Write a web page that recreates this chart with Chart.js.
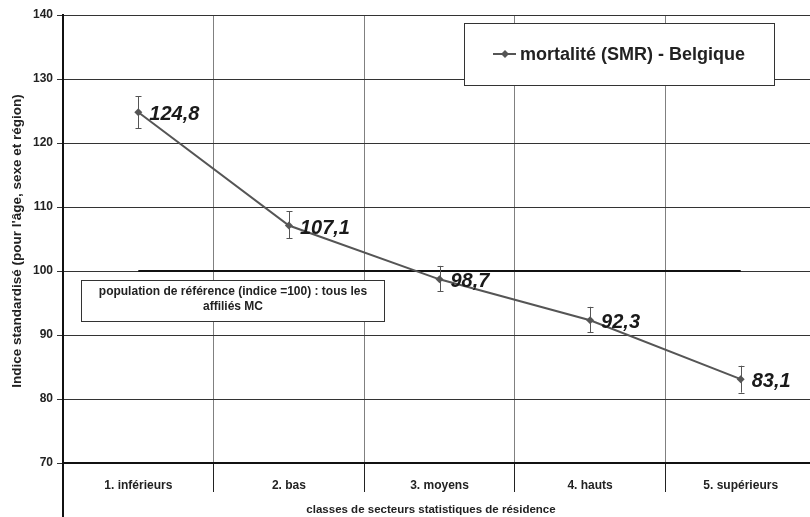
<!DOCTYPE html>
<html lang="fr">
<head>
<meta charset="utf-8">
<title>Mortalité (SMR) - Belgique</title>
<script src="https://cdn.jsdelivr.net/npm/chart.js@4/dist/chart.umd.min.js"></script>
<style>
  html, body { margin: 0; padding: 0; background: #fff; }
  #wrap { width: 810px; height: 517px; overflow: hidden; position: relative; }
  canvas { display: block; }
</style>
</head>
<body>
<div id="wrap"><canvas id="c" width="830" height="517"></canvas></div>
<script>
// Classes de secteurs statistiques
const categories = ['1. inférieurs', '2. bas', '3. moyens', '4. hauts', '5. supérieurs'];
// Indice standardisé (SMR) et intervalle de confiance
const smr     = [124.8, 107.1, 98.7, 92.3, 83.1];
const ciLow   = [122.3, 105.1, 96.8, 90.4, 81.0];
const ciHigh  = [127.3, 109.3, 100.8, 94.4, 85.2];
// Population de référence
const reference = [100, 100, 100, 100, 100];
// Axe vertical
const yTicks = [70, 80, 90, 100, 110, 120, 130, 140];

const seriesLabel = 'mortalité (SMR) - Belgique';
const refNote = ['population de référence (indice =100) : tous les', 'affiliés MC'];
const xTitle = 'classes de secteurs statistiques de résidence';
const yTitle = "Indice standardisé (pour l'âge, sexe et région)";

const FONT = '"Liberation Sans", Arial, sans-serif';
const LINE = '#555555';

function fmt(v) { return v.toFixed(1).replace('.', ','); }

function diamond(ctx, x, y, r) {
  ctx.beginPath();
  ctx.moveTo(x, y - r);
  ctx.lineTo(x + r, y);
  ctx.lineTo(x, y + r);
  ctx.lineTo(x - r, y);
  ctx.closePath();
  ctx.fill();
}

const decorations = {
  id: 'decorations',
  beforeDatasetsDraw(chart) {
    const ctx = chart.ctx;
    ctx.save();
    // note box on the reference level
    ctx.fillStyle = '#fff';
    ctx.fillRect(81, 280, 304, 41);
    ctx.strokeStyle = '#333';
    ctx.lineWidth = 1;
    ctx.strokeRect(81.5, 280.5, 303, 41);
    ctx.fillStyle = '#222';
    ctx.font = 'bold 12px ' + FONT;
    ctx.textAlign = 'center';
    ctx.textBaseline = 'middle';
    ctx.fillText(refNote[0], 233, 292);
    ctx.fillText(refNote[1], 233, 307);
    // legend box
    ctx.fillStyle = '#fff';
    ctx.fillRect(464, 23, 310, 62);
    ctx.strokeStyle = '#333';
    ctx.strokeRect(464.5, 23.5, 310, 62);
    ctx.strokeStyle = LINE;
    ctx.lineWidth = 2;
    ctx.beginPath();
    ctx.moveTo(493, 54);
    ctx.lineTo(516, 54);
    ctx.stroke();
    ctx.fillStyle = LINE;
    diamond(ctx, 505, 54, 4);
    ctx.fillStyle = '#222';
    ctx.font = 'bold 18px ' + FONT;
    ctx.textAlign = 'left';
    ctx.textBaseline = 'middle';
    ctx.fillText(seriesLabel, 520, 55);
    ctx.restore();
  },
  afterDatasetsDraw(chart) {
    const ctx = chart.ctx;
    const xs = chart.scales.x, ys = chart.scales.y;
    ctx.save();
    // confidence intervals
    ctx.strokeStyle = LINE;
    ctx.lineWidth = 1;
    smr.forEach((v, i) => {
      const x = Math.round(xs.getPixelForValue(i)) + 0.5;
      const y1 = ys.getPixelForValue(ciLow[i]);
      const y2 = ys.getPixelForValue(ciHigh[i]);
      ctx.beginPath();
      ctx.moveTo(x, y1); ctx.lineTo(x, y2);
      ctx.moveTo(x - 3, Math.round(y1) + 0.5); ctx.lineTo(x + 3, Math.round(y1) + 0.5);
      ctx.moveTo(x - 3, Math.round(y2) + 0.5); ctx.lineTo(x + 3, Math.round(y2) + 0.5);
      ctx.stroke();
    });
    // value labels
    ctx.fillStyle = '#1a1a1a';
    ctx.font = 'italic bold 20px ' + FONT;
    ctx.textAlign = 'left';
    ctx.textBaseline = 'alphabetic';
    smr.forEach((v, i) => {
      const x = xs.getPixelForValue(i);
      const y = ys.getPixelForValue(v);
      ctx.fillText(fmt(v), x + 11, y + 8);
    });
    ctx.restore();
  },
  afterDraw(chart) {
    const ctx = chart.ctx;
    const area = chart.chartArea;
    ctx.save();
    // vertical axis continues through the label band
    ctx.strokeStyle = '#111';
    ctx.lineWidth = 2;
    ctx.beginPath();
    ctx.moveTo(area.left, area.bottom);
    ctx.lineTo(area.left, 517);
    ctx.stroke();
    // axis titles
    ctx.fillStyle = '#222';
    ctx.font = 'bold 11.5px ' + FONT;
    ctx.textAlign = 'center';
    ctx.textBaseline = 'middle';
    ctx.fillText(xTitle, 431, 510);
    ctx.translate(21, 241);
    ctx.rotate(-Math.PI / 2);
    ctx.font = 'bold 13.5px ' + FONT;
    ctx.textBaseline = 'alphabetic';
    ctx.fillText(yTitle, 0, 0);
    ctx.restore();
  }
};

new Chart(document.getElementById('c'), {
  type: 'line',
  data: {
    labels: categories,
    datasets: [
      {
        label: seriesLabel,
        data: smr,
        borderColor: LINE,
        backgroundColor: LINE,
        borderWidth: 2,
        pointStyle: 'rectRot',
        pointRadius: 4,
        pointBackgroundColor: LINE,
        pointBorderWidth: 0,
        tension: 0,
        order: 0
      },
      {
        label: 'référence',
        data: reference,
        borderColor: '#111',
        borderWidth: 2,
        pointRadius: 0,
        tension: 0,
        order: 1
      }
    ]
  },
  options: {
    responsive: false,
    devicePixelRatio: 1,
    animation: false,
    events: [],
    layout: { padding: { left: 0, top: 15, right: 14, bottom: 0 } },
    plugins: { legend: { display: false }, tooltip: { enabled: false } },
    scales: {
      x: {
        type: 'category',
        offset: true,
        grid: {
          offset: true,
          color: '#808080',
          lineWidth: 1,
          tickColor: '#222',
          tickLength: 29
        },
        border: { color: '#111', width: 2 },
        ticks: {
          color: '#222',
          font: { family: FONT, size: 12, weight: 'bold' },
          padding: -14,
          maxRotation: 0,
          autoSkip: false
        },
        afterFit(scale) { scale.height = 54; }
      },
      y: {
        min: 70,
        max: 140,
        afterBuildTicks(scale) { scale.ticks = yTicks.map(v => ({ value: v })); },
        grid: {
          color: '#333',
          lineWidth: 1,
          tickColor: '#333',
          tickLength: 6
        },
        border: { color: '#111', width: 2 },
        ticks: {
          color: '#222',
          font: { family: FONT, size: 12, weight: 'bold' },
          padding: 4
        },
        afterFit(scale) { scale.width = 63; }
      }
    }
  },
  plugins: [decorations]
});
</script>
</body>
</html>
